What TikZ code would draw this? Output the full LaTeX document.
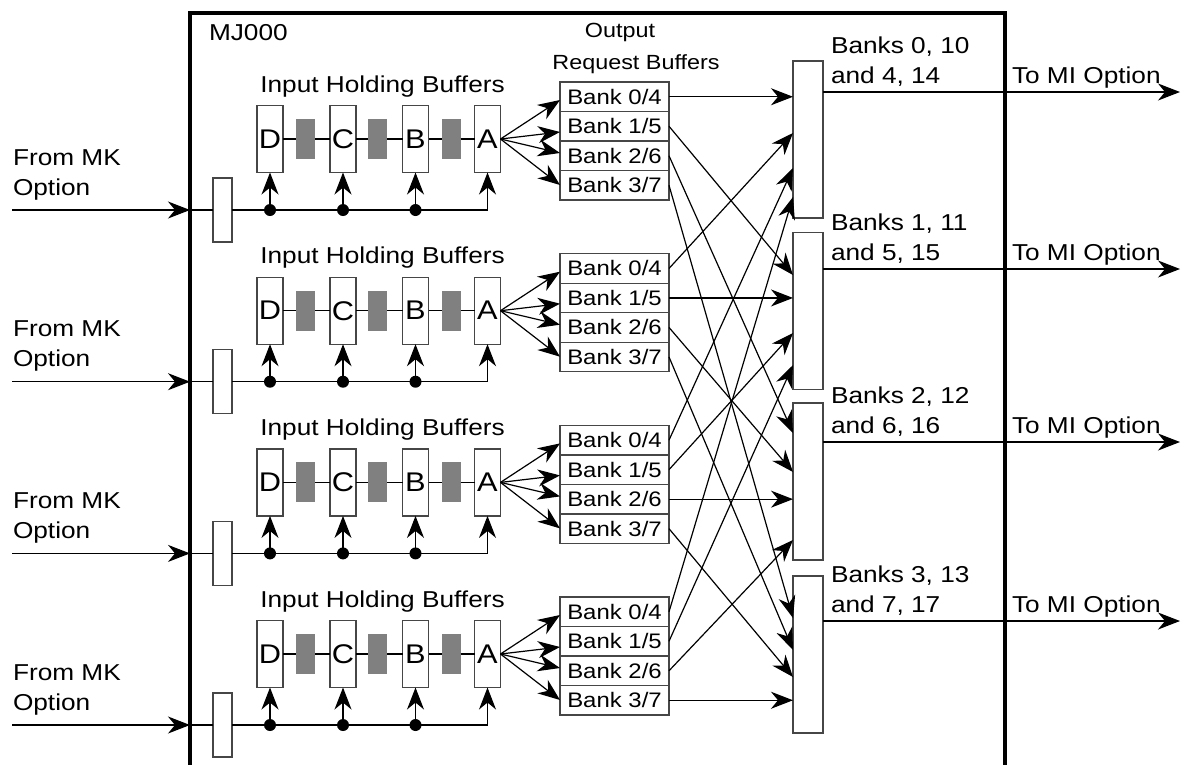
\documentclass[tikz,border=0pt]{standalone}
\usepackage{fontspec}
\setmainfont{Liberation Sans}[FakeStretch=1.14]
\usetikzlibrary{arrows.meta,calc}
\definecolor{bufgray}{RGB}{128,128,128}
\definecolor{edge}{RGB}{70,70,70}
\begin{document}
\begin{tikzpicture}[x=1pt,y=-1pt,
  every node/.style={inner sep=0pt, outer sep=0pt},
  conn/.style={line width=1.2pt, black},
  arr/.style={conn, -{Stealth[length=22pt,width=17pt,inset=7pt]}},
  boxln/.style={draw=edge, line width=1.4pt, fill=white},
  ibuf/.style={boxln, minimum width=26pt, minimum height=67pt, font=\fontsize{27}{27}\selectfont},
  inbox/.style={boxln, minimum width=19pt, minimum height=64pt},
  grayblk/.style={fill=bufgray, minimum width=19pt, minimum height=40pt},
  bankbox/.style={boxln, minimum width=109pt, minimum height=29.5pt, font=\fontsize{21}{21}\selectfont},
  rbox/.style={boxln, minimum width=30pt, minimum height=157pt},
  dot/.style={circle, fill=black, minimum size=12pt},
  lbl/.style={font=\fontsize{23}{23}\selectfont},
  slbl/.style={font=\fontsize{20.5}{20.5}\selectfont},
]
\useasboundingbox (0,0) rectangle (1188,764);

% main box
\draw[line width=4pt] (190,775) -- (190,12.5) -- (1005,12.5) -- (1005,775);
\node[lbl, anchor=base west] (mj) at (209,40) {MJ000};
\node[slbl, anchor=base] (orb1) at (620,37) {Output};
\node[slbl, anchor=base] (orb2) at (636,69) {Request Buffers};

% right bank boxes
\foreach \i/\top/\L/\a/\b/\c/\d in {1/61/53/0/10/4/14, 2/232.5/230/1/11/5/15, 3/403/403/2/12/6/16, 4/576/582/3/13/7/17}{
  \node[rbox, anchor=north west] (rb\i) at (793,\top) {};
  \node[lbl, anchor=base west] (bl\i) at (831,\L) {Banks \a, \b};
  \node[lbl, anchor=base west] (al\i) at (831,\L+30) {and \c, \d};
  \coordinate (out\i) at (1180,\L+39);
  \draw[arr] (rb\i.east |- out\i) -- (out\i);
  \node[lbl, anchor=base west] (mi\i) at (1012,\L+30) {To MI Option};
}

% input groups
\foreach \g/\G in {1/0, 2/171.7, 3/343.4, 4/515}{
  \pgfmathsetmacro\bus{210+\G}
  \pgfmathsetmacro\mid{139+\G}
  \node[lbl, anchor=base west] (fm\g) at (13,\bus-45) {From MK};
  \node[lbl, anchor=base west] (fo\g) at (13,\bus-15) {Option};
  \coordinate (src\g) at (12,\bus);
  \coordinate (brd\g) at (190,\bus);
  \draw[arr] (src\g) -- (brd\g);
  \node[inbox] (ib\g) at (222.5,\bus) {};
  \draw[conn] (brd\g) -- (ib\g);
  \node[lbl, anchor=base] (ihb\g) at (382.5,92+\G) {Input Holding Buffers};
  \node[ibuf] (D\g) at (270,\mid) {D};
  \node[ibuf] (C\g) at (343,\mid) {C};
  \node[ibuf] (B\g) at (415.5,\mid) {B};
  \node[ibuf] (A\g) at (487.5,\mid) {A};
  \node[grayblk] (ga\g) at (305.5,\mid) {};
  \node[grayblk] (gb\g) at (377.5,\mid) {};
  \node[grayblk] (gc\g) at (451,\mid) {};
  \draw[conn] (D\g) -- (ga\g) -- (C\g) -- (gb\g) -- (B\g) -- (gc\g) -- (A\g);
  \draw[arr] (ib\g.east) -| (A\g.south);
  \foreach \n in {D,C,B}{
    \node[dot] (d\n\g) at (\n\g.south |- ib\g.east) {};
    \draw[arr] (d\n\g.center) -- (\n\g.south);
  }
  \foreach \i/\a/\b in {1/0/4, 2/1/5, 3/2/6, 4/3/7}{
    \node[bankbox, anchor=north west] (bk\g\i) at (560,82+\G+29.5*\i-29.5) {Bank \a/\b};
  }
  \foreach \i/\o in {1/-3.25, 2/-5.75, 3/2.75, 4/0.25}{
    \draw[arr] (A\g.east) -- ([yshift=\o pt]bk\g\i.west);
  }
  \draw[arr] (bk\g\g.east) -- (rb\g.west |- bk\g\g.east);
}

% crossbar connections
\foreach \g/\i/\o in {2/1/72, 3/1/107, 4/1/136, 1/2/42.5, 3/2/100.5, 4/2/132.5, 1/3/30, 2/3/69, 4/3/137, 1/4/42, 2/4/74, 3/4/101}{
  \draw[arr] (bk\g\i.east) -- ([yshift=-\o pt]rb\i.north west);
}
\end{tikzpicture}
\end{document}
